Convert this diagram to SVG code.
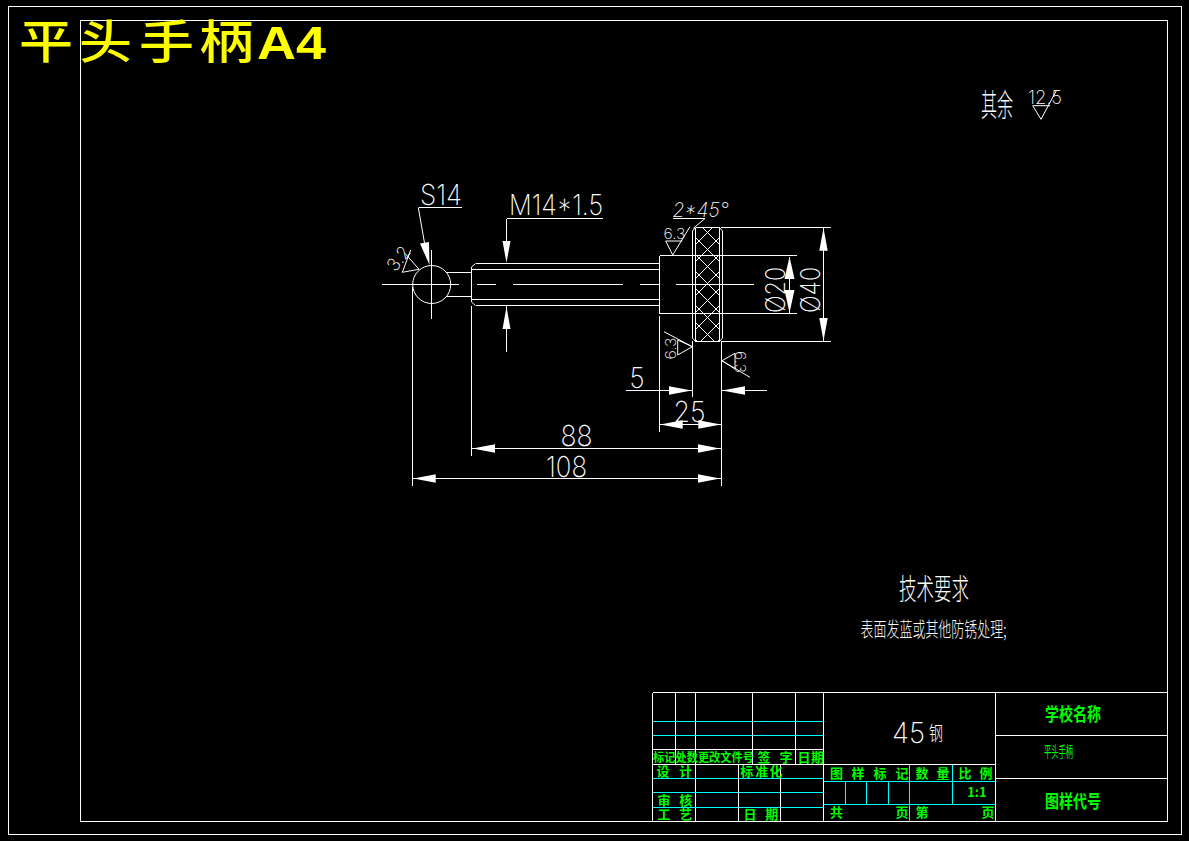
<svg xmlns="http://www.w3.org/2000/svg" width="1189" height="841" viewBox="0 0 1189 841">
<style>
.l{fill:none;stroke:#fff;stroke-width:1}
.c{fill:none;stroke:#0ff;stroke-width:1;shape-rendering:crispEdges}
.w{fill:none;stroke:#fff;stroke-width:1;shape-rendering:crispEdges}
.a{fill:#fff;stroke:none}
.d{font-family:Inter,"Liberation Sans",sans-serif;font-weight:200;fill:#fff;opacity:.99}
.h{font-family:"Noto Sans CJK SC",sans-serif;font-weight:300;fill:#fff;opacity:.99}
.g{font-family:"Noto Sans CJK SC",sans-serif;font-weight:700;fill:#0f0;font-size:13px;text-anchor:middle;opacity:.99}
.t{font-family:"Noto Sans CJK SC",sans-serif;font-weight:700;fill:#0f0;opacity:.99}
.y{font-family:"Noto Sans CJK SC",sans-serif;font-weight:500;font-size:46px;fill:#ff0;opacity:.99}
</style>
<defs>
<pattern id="knurl" patternUnits="userSpaceOnUse" x="699" y="224" width="17" height="17">
<path d="M0 0L17 17M17 0L0 17" stroke="#fff" stroke-width="1" fill="none" shape-rendering="crispEdges"/>
</pattern>
</defs>
<rect width="1189" height="841" fill="#000"/>
<g id="frame">
<rect class="w" x="8.5" y="6.5" width="1173" height="828"/>
<rect class="w" x="80.5" y="20.5" width="1087" height="801"/>
</g>
<g id="title-block">
<path class="c" d="M652.5 721.5H823.5M652.5 735.5H823.5M652.5 778.5H823.5M652.5 792.5H823.5M652.5 807.5H823.5M823.5 781.5H995.5M823.5 804.5H995.5M845.5 781.5V804.5M866.5 781.5V804.5M888.5 781.5V804.5M909.5 764.5V821.5M952.5 764.5V804.5"/>
<path class="w" d="M652.5 692.5H1167.5M652.5 692.5V821.5M675.5 692.5V764.5M695.5 692.5V821.5M752.5 692.5V764.5M795.5 692.5V764.5M823.5 692.5V821.5M995.5 692.5V821.5M652.5 749.5H823.5M652.5 764.5H995.5M738.5 764.5V821.5M780.5 764.5V821.5M995.5 735.5H1167.5M995.5 778.5H1167.5"/>
<text class="t" x="653" y="761.5" font-size="12" textLength="101" lengthAdjust="spacingAndGlyphs">标记处数更改文件号</text>
<text class="g" x="764" y="761.5">签</text><text class="g" x="786" y="761.5">字</text><text class="g" x="804" y="761.5">日</text><text class="g" x="817.5" y="761.5">期</text>
<text class="g" x="663" y="776">设</text><text class="g" x="685.7" y="776">计</text>
<text class="g" x="746.7" y="776">标</text><text class="g" x="761.7" y="776">准</text><text class="g" x="776" y="776">化</text>
<text class="g" x="664" y="805">审</text><text class="g" x="685.7" y="805">核</text>
<text class="g" x="664" y="819">工</text><text class="g" x="685.7" y="819">艺</text>
<text class="g" x="750" y="819">日</text><text class="g" x="771.7" y="819">期</text>
<text class="g" x="836.6" y="777.5">图</text><text class="g" x="858" y="777.5">样</text><text class="g" x="880" y="777.5">标</text><text class="g" x="902" y="777.5">记</text><text class="g" x="922" y="777.5">数</text><text class="g" x="943" y="777.5">量</text><text class="g" x="965" y="777.5">比</text><text class="g" x="986" y="777.5">例</text>
<text class="g" x="977" y="796.5">1:1</text>
<text class="g" x="836.6" y="817">共</text><text class="g" x="902" y="817">页</text><text class="g" x="922" y="817">第</text><text class="g" x="988" y="817">页</text>
<text class="d" x="892" y="742.7" font-size="29" textLength="33" lengthAdjust="spacingAndGlyphs">45</text>
<text class="h" x="929" y="741" font-size="20" textLength="14" lengthAdjust="spacingAndGlyphs">钢</text>
<text class="t" x="1045" y="720.5" font-size="18" textLength="56" lengthAdjust="spacingAndGlyphs">学校名称</text>
<text class="t" x="1044" y="756.5" font-size="15" textLength="29" lengthAdjust="spacingAndGlyphs" style="font-weight:400">平头手柄</text>
<text class="t" x="1045" y="807.5" font-size="18" textLength="56" lengthAdjust="spacingAndGlyphs">图样代号</text>
</g>
<g id="notes">
<text class="h" x="981" y="116" font-size="31" textLength="32" lengthAdjust="spacingAndGlyphs">其余</text>
<text class="d" x="1028" y="103.5" font-size="19" textLength="34" lengthAdjust="spacingAndGlyphs">12.5</text>
<path class="l" d="M1032.7 105.7H1050M1032.7 105.7L1041 119.3L1056.7 90"/>
<text class="h" x="899" y="600" font-size="29" textLength="70" lengthAdjust="spacingAndGlyphs">技术要求</text>
<text class="h" x="860.5" y="637" font-size="20" textLength="146" lengthAdjust="spacingAndGlyphs">表面发蓝或其他防锈处理;</text>
</g>
<g id="part">
<circle class="l" cx="431.7" cy="284.5" r="19"/>
<path class="w" d="M382 284.5H459M431.5 250V319M477 284.5H496M513 284.5H623M640 284.5H659M676 284.5H754"/>
<path class="w" d="M446 272.5H471.5M446 296.5H471.5M471.5 267V302M475.5 263.5H659.5M471.5 269.5H659.5M471.5 299.5H659.5M475.5 305.5H659.5M659.5 255.5V313.5M659.5 255.5H797M659.5 313.5H797M692.5 231V338M722.5 231V338M695.5 227.5V341.5M719.5 227.5V341.5M695.5 227.5H719.5M695.5 341.5H719.5"/>
<path class="l" d="M471.5 267L475.5 263.5M471.5 302L475.5 305.5M692.5 231L695.5 227.5M692.5 338L695.5 341.5M722.5 231L719.5 227.5M722.5 338L719.5 341.5"/>
<rect x="696" y="228" width="23" height="113" fill="url(#knurl)"/>
</g>
<g id="dimensions">
<path class="w" d="M412.5 287V485.5M471.5 306V455.5M659.5 316V431.5M692.5 341V397M721.5 341V485.5M720.5 227.5H830.5M720.5 341.5H830.5M506.5 218.5V242M506.5 306V351.5M506.5 218.5H602.5M418.5 207.5H461.5M673 218.5H705M789.5 257V313M823.5 228V341M626 390.5H692M722 390.5H766.5M660 424.5H721M472 448.5H721M413 478.5H721"/>
<path class="l" d="M418.3 207.5L424.5 243M705 218.5L693.3 228.3M419 269.3L402.3 272.3L410.7 250M419 269.3L405 253.3M665.7 241H682.3M665.7 241L672.7 255L690 226.7M692.3 346.7L677.7 340V355L692.3 346.7L664 331.7M722 360.7L735 353.3V369L722 360.7L750 377.3"/>
<path class="a" d="M429.5 265L420 243.5L429 242ZM506.5 262.7L502.5 241H510.5ZM506.5 306.7L502.5 329H510.5ZM789.5 256.5L784.5 279H794.5ZM789.5 313L784.5 290H794.5ZM823.5 228L819.3 250.7H827.7ZM823.5 341L819.3 318H827.7ZM691.7 390.5L669 386.3V394.7ZM722 390.5L745 386.3V394.7ZM660 424.5L682.7 420.3V428.7ZM721 424.5L698.3 420.3V428.7ZM472.5 448.5L495 444.3V452.7ZM720 448.5L698 444.3V452.7ZM413.5 478.5L435.7 474.3V482.7ZM720 478.5L698 474.3V482.7Z"/>
<text class="d" x="420" y="205" font-size="29" textLength="42" lengthAdjust="spacingAndGlyphs">S14</text>
<text class="d" x="509" y="215" font-size="28" textLength="94" lengthAdjust="spacingAndGlyphs">M14*1.5</text>
<text class="d" x="672.5" y="216.7" font-size="20" textLength="56" lengthAdjust="spacingAndGlyphs" font-style="italic">2*45°</text>
<text class="d" x="663.5" y="238.5" font-size="15" textLength="22" lengthAdjust="spacingAndGlyphs">6.3</text>
<text class="d" transform="translate(395.5 272.5) rotate(-52)" font-size="18" textLength="26" lengthAdjust="spacingAndGlyphs">3.2</text>
<text class="d" transform="translate(676 359.5) rotate(-90)" font-size="15" textLength="22" lengthAdjust="spacingAndGlyphs">6.3</text>
<text class="d" transform="translate(735 351) rotate(90)" font-size="15" textLength="22" lengthAdjust="spacingAndGlyphs">6.3</text>
<text class="d" transform="translate(785 313) rotate(-90)" font-size="27" textLength="46" lengthAdjust="spacingAndGlyphs">Ø20</text>
<text class="d" transform="translate(820 313) rotate(-90)" font-size="27" textLength="46" lengthAdjust="spacingAndGlyphs">Ø40</text>
<text class="d" x="629.5" y="388" font-size="29" textLength="15" lengthAdjust="spacingAndGlyphs">5</text>
<text class="d" x="673.5" y="422" font-size="29" textLength="32" lengthAdjust="spacingAndGlyphs">25</text>
<text class="d" x="560.5" y="446" font-size="29" textLength="32" lengthAdjust="spacingAndGlyphs">88</text>
<text class="d" x="546" y="476.7" font-size="29" textLength="41" lengthAdjust="spacingAndGlyphs">108</text>
</g>
<g id="title">
<text class="y" x="19" y="58" textLength="54" lengthAdjust="spacingAndGlyphs">平</text>
<text class="y" x="79" y="58" textLength="53" lengthAdjust="spacingAndGlyphs">头</text>
<text class="y" x="139" y="58" textLength="55" lengthAdjust="spacingAndGlyphs">手</text>
<text class="y" x="199" y="58" textLength="55" lengthAdjust="spacingAndGlyphs">柄</text>
<text x="257" y="59" font-family="Liberation Sans,sans-serif" font-weight="700" font-size="47" fill="#ff0" textLength="69" lengthAdjust="spacingAndGlyphs">A4</text>
</g>
</svg>
